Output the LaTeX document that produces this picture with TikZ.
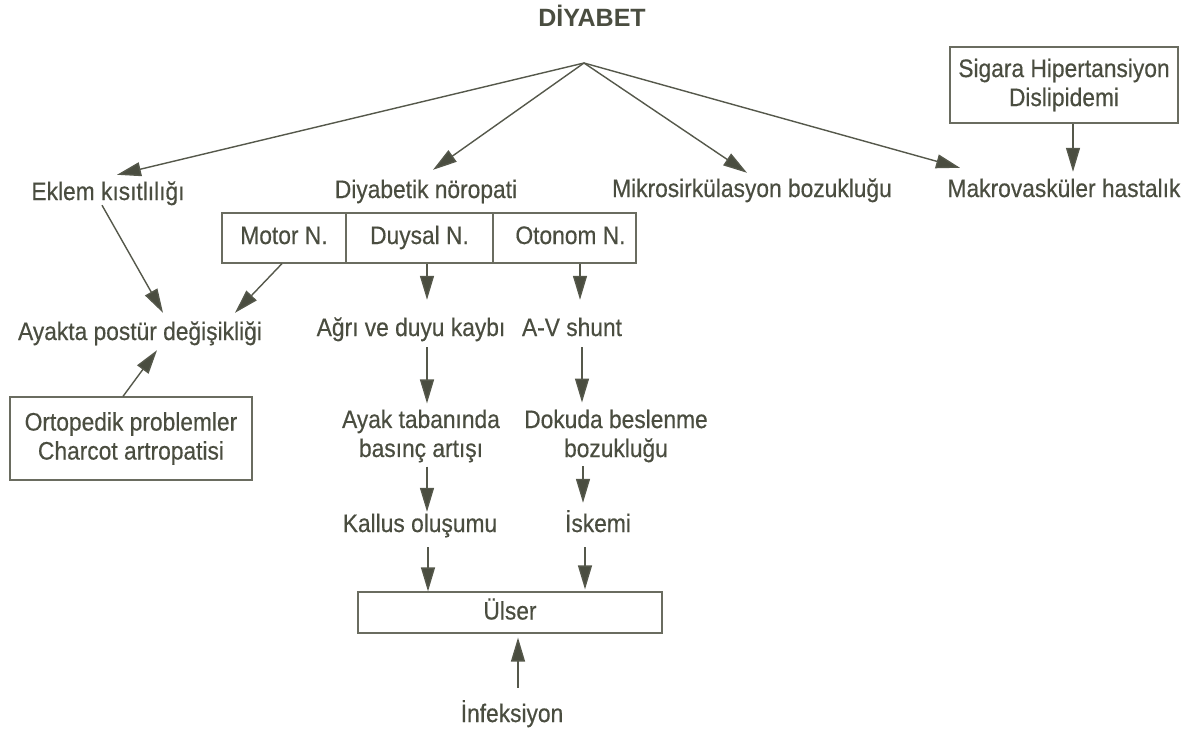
\documentclass[tikz,border=0pt]{standalone}
\usepackage{fontspec}
\setmainfont[FakeStretch=0.9,FakeBold=0.4]{Liberation Sans}
\newfontfamily\titlefont{Liberation Sans}
\usetikzlibrary{arrows.meta,calc}
\definecolor{ink}{HTML}{4A4D40}
\definecolor{lin}{HTML}{55584B}
\definecolor{boxln}{HTML}{6A6C60}
\begin{document}
\begin{tikzpicture}[x=1pt,y=-1pt,
  lbl/.style={inner sep=0pt, anchor=base, text height=16pt, text depth=5pt, text=ink,
    font=\fontsize{25.3}{29}\selectfont},
  lbltwo/.style={inner sep=0pt, anchor=center, align=center, text=ink,
    font=\fontsize{25.3}{29}\selectfont},
  boxnode/.style={draw=boxln, line width=1.2pt, inner sep=0pt, anchor=center, align=center,
    text=ink, font=\fontsize{25.3}{29}\selectfont},
  boxone/.style={boxnode, text height=17pt, text depth=5pt, minimum height=50pt},
  arr/.style={draw=lin, line width=1.4pt, -{Triangle[length=24pt,width=14pt,fill=ink]}}
]
\fill[white] (0,0) rectangle (1181,737);
\useasboundingbox (0,0) rectangle (1181,737);

% title and hub
\node[inner sep=0pt, anchor=base, text=ink, font=\titlefont\bfseries\fontsize{25}{30}\selectfont] (diyabet) at (592,26) {DİYABET};
\coordinate (hub) at (584,63);

% level 1
\node[lbl] (eklem) at (108,200) {Eklem kısıtlılığı};
\node[lbl] (noro) at (426,198) {Diyabetik nöropati};
\node[lbl] (mikro) at (752,197) {Mikrosirkülasyon bozukluğu};
\node[lbl] (makro) at (1064,197) {Makrovasküler hastalık};
\node[boxnode, minimum width=228pt, minimum height=76pt] (sigara) at (1064,85) {Sigara Hipertansiyon\\Dislipidemi};

% neuropathy boxes
\node[boxone, minimum width=124pt] (motor) at (284,238) {Motor N.};
\node[boxone, minimum width=147pt] (duysal) at (419.5,238) {Duysal N.};
\node[boxone, minimum width=143pt] (otonom) at (564.5,238) {\hspace*{12pt}Otonom N.};

% level 2
\node[lbl] (ayakta) at (140,340) {Ayakta postür değişikliği};
\node[lbl] (agri) at (411,336) {Ağrı ve duyu kaybı};
\node[lbl] (avshunt) at (572,336) {A-V shunt};
\node[boxnode, minimum width=242pt, minimum height=83pt] (orto) at (131,438.5) {Ortopedik problemler\\Charcot artropatisi};

% level 3
\node[lbltwo] (ayak) at (421,436) {Ayak tabanında\\basınç artışı};
\node[lbltwo] (dokuda) at (616,436) {Dokuda beslenme\\bozukluğu};
\node[lbl] (kallus) at (420,532) {Kallus oluşumu};
\node[lbl] (iskemi) at (598,532) {İskemi};

% ulser and infection
\node[boxnode, minimum width=304pt, minimum height=41pt, text height=17pt, text depth=3pt] (ulser) at (510,612.5) {Ülser};
\node[lbl] (infek) at (512,722) {İnfeksiyon};

% connectors
\draw[arr] (hub) -- ($(eklem.north)+(9,-9)$);
\draw[arr] (hub) -- ($(noro.north)+(7,-12)$);
\draw[arr] (hub) -- ($(mikro.north)+(-5,-8)$);
\draw[arr] (hub) -- ($(makro.north)+(-104,-13)$);
\draw[arr] ($(sigara.south)+(9,0)$) -- ($(makro.north)+(9,-9)$);

\draw[arr] ($(motor.south)+(-2,0)$) -- ($(ayakta.north)+(95,-11)$);
\draw[arr] ($(duysal.south)+(7.5,0)$) -- ($(agri.north)+(16,-20)$);
\draw[arr] ($(otonom.south)+(15.5,0)$) -- ($(avshunt.north)+(8,-20)$);
\draw[arr] ($(eklem.south)+(-6,0)$) -- ($(ayakta.north)+(23,-11)$);
\draw[arr] ($(orto.north)+(-8,0)$) -- ($(ayakta.south)+(17,5)$);

\draw[arr] ($(agri.south)+(16,6)$) -- ($(ayak.north)+(6,-6)$);
\draw[arr] ($(avshunt.south)+(10,6)$) -- ($(dokuda.north)+(-34,-7)$);
\draw[arr] ($(ayak.south)+(6,4)$) -- ($(kallus.north)+(7,-4)$);
\draw[arr] ($(dokuda.south)+(-33,4)$) -- ($(iskemi.north)+(-15,-13)$);
\draw[arr] ($(kallus.south)+(8,10)$) -- ($(ulser.north)+(-82,0)$);
\draw[arr] ($(iskemi.south)+(-13,10)$) -- ($(ulser.north)+(75,-2)$);
\draw[arr] ($(infek.north)+(6,-18)$) -- ($(ulser.south)+(8,4)$);
\end{tikzpicture}
\end{document}
